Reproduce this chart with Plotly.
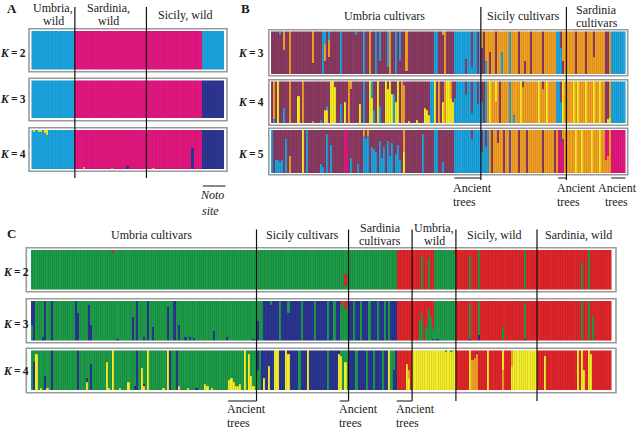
import plotly.graph_objects as go

W, H = 640, 429

# ---------------- data ----------------
A_GROUPS = ["Umbria,<br>wild", "Sardinia,<br>wild", "Sicily, wild"]
A_SIZES = [20, 33, 36]
B_GROUPS = ["Umbria cultivars", "Sicily cultivars", "Sardinia<br>cultivars"]
B_SIZES = [103, 42, 29]
C_GROUPS = ["Umbria cultivars", "Sicily cultivars", "Sardinia<br>cultivars",
            "Umbria,<br>wild", "Sicily, wild", "Sardinia, wild"]
C_SIZES = [103, 42, 29, 20, 37, 34]
ANCIENT = [(90, 103), (141, 145), (167, 174)]   # cultivar index ranges
NOTO = (79, 89)                                  # panel A index range
A_K = [2, 3, 4]
B_K = [3, 4, 5]
C_K = [2, 3, 4]

PAL_A = {'C': '#1ba3dd', 'P': '#e0177e', 'N': '#2e3590', 'Y': '#f1e526', 'O': '#f3a024'}
PAL_B = {'M': '#8c3b62', 'C': '#1da4de', 'O': '#f2a023', 'Y': '#f6ec1f', 'P': '#e2187f', 'V': '#6a49b5'}
PAL_C = {'G': '#1e9b48', 'N': '#2a3691', 'R': '#e1262b', 'Y': '#f2ec2b', 'O': '#f3a125'}

# ---- panel A ----
A_K2_RUNS = [(20, 'C'), (59, 'P'), (10, 'C')]
A_K2_MIX = {}
A_K3_RUNS = [(20, 'C'), (59, 'P'), (10, 'N')]
A_K3_MIX = {}
A_K4_RUNS = [(20, 'C'), (59, 'P'), (10, 'N')]
A_K4_MIX = {1: [('C', .95), ('Y', .05)], 3: [('C', .95), ('Y', .05)], 4: [('C', .96), ('Y', .04)],
            6: [('C', .93), ('Y', .07)], 7: [('C', .88), ('Y', .12)],
            24: [('O', .04), ('P', .96)], 37: [('O', .03), ('P', .97)], 44: [('N', .08), ('P', .92)],
            56: [('O', .02), ('P', .98)], 74: [('N', .55), ('P', .45)]}

# ---- panel B ----
B_K3_RUNS = [(90, 'M'), (13, 'C'), (64, 'O'), (7, 'C')]
B_K3_MIX = {4: [('M', .9), ('C', .1)], 6: [('M', .55), ('O', .45)], 9: 'O', 20: [('M', .25), ('O', .75)],
            25: 'C', 26: [('M', .3), ('O', .4), ('C', .3)], 28: [('M', .4), ('O', .4), ('C', .2)],
            34: 'C', 41: [('M', .9), ('C', .1)], 45: 'C', 48: 'O', 51: 'C', 53: [('M', .3), ('C', .7)],
            57: [('M', .15), ('C', .85)], 58: 'O', 61: 'C', 63: [('M', .3), ('C', .7)],
            66: [('M', .05), ('O', .95)], 80: 'C', 81: 'C', 84: [('M', .9), ('O', .1)], 85: 'O',
            95: [('M', .35), ('C', .65)], 98: [('C', .15), ('M', .85)], 101: 'M',
            103: [('M', .6), ('O', .4)], 104: 'M', 105: [('C', .3), ('O', .7)], 107: [('M', .5), ('O', .5)],
            110: 'M', 113: [('C', .5), ('O', .5)], 117: 'C', 121: 'M', 124: [('M', .3), ('O', .7)],
            127: 'M', 133: 'M', 140: 'C', 141: 'C', 142: [('C', .6), ('M', .4)], 143: [('M', .3), ('O', .7)],
            149: 'M', 154: 'M', 158: [('O', .4), ('M', .6)], 164: 'M', 165: 'M'}
B_K4_RUNS = [(90, 'M'), (13, 'C'), (64, 'O'), (7, 'C')]
B_K4_MIX = {1: [('C', .1), ('O', .9)], 3: 'Y', 6: [('C', .35), ('M', .65)], 9: 'O', 13: [('Y', .65), ('M', .35)],
            15: 'O', 20: [('O', .05), ('M', .95)], 24: [('C', .08), ('M', .92)], 26: [('Y', .3), ('M', .7)],
            27: [('Y', .3), ('C', .1), ('M', .6)], 29: 'Y', 30: 'Y', 31: [('Y', .85), ('M', .15)],
            34: [('C', .45), ('M', .55)], 36: [('Y', .5), ('M', .5)], 38: 'O', 39: [('M', .8), ('O', .2)],
            43: [('Y', .45), ('M', .55)], 45: 'C', 48: 'Y', 49: [('Y', .6), ('C', .4)], 50: [('C', .3), ('M', .7)],
            52: 'Y', 53: [('C', .4), ('M', .6)], 56: 'Y', 57: [('Y', .8), ('M', .2)], 58: 'Y',
            59: [('Y', .7), ('M', .3)], 60: [('C', .7), ('M', .3)], 61: [('Y', .5), ('M', .5)], 62: 'Y',
            64: 'O', 65: [('O', .9), ('M', .1)], 67: [('Y', .05), ('M', .95)], 71: [('Y', .06), ('M', .94)],
            75: [('Y', .35), ('M', .65)], 76: [('Y', .3), ('M', .7)], 77: [('Y', .2), ('M', .8)],
            78: 'C', 79: 'C', 80: 'Y', 82: 'O', 84: [('Y', .5), ('M', .5)], 85: 'O', 86: 'Y', 87: 'Y',
            88: [('Y', .6), ('O', .4)], 89: [('Y', .5), ('M', .5)],
            90: [('C', .6), ('M', .4)], 95: [('C', .7), ('M', .3)], 98: [('C', .25), ('M', .75)],
            101: [('C', .45), ('M', .55)],
            103: [('C', .5), ('M', .5)], 104: 'M', 105: 'C', 107: 'Y', 110: [('O', .5), ('Y', .5)], 112: 'M',
            117: 'C', 119: [('C', .2), ('O', .8)], 122: 'Y', 123: [('O', .85), ('M', .15)], 131: 'Y',
            133: [('O', .8), ('M', .2)], 135: 'Y', 140: 'C', 141: 'C', 142: [('C', .5), ('M', .5)], 143: 'Y',
            148: 'Y', 150: 'Y', 154: 'Y', 158: 'Y', 161: 'Y', 164: 'M', 165: [('Y', .1), ('M', .9)],
            166: [('Y', .15), ('O', .85)]}
B_K5_RUNS = [(90, 'M'), (13, 'C'), (64, 'O'), (7, 'P')]
B_K5_MIX = {0: 'C', 2: [('C', .3), ('M', .7)], 3: [('C', .3), ('M', .7)], 4: [('C', .25), ('M', .75)],
            5: [('C', .3), ('M', .7)], 7: [('C', .8), ('M', .2)], 9: [('O', .4), ('M', .6)], 15: 'Y', 17: 'C',
            24: [('C', .2), ('M', .8)], 25: [('C', .15), ('M', .85)], 27: [('C', .9), ('M', .1)],
            29: [('C', .65), ('M', .35)], 36: 'P', 37: 'P', 39: [('C', .35), ('M', .65)], 42: [('C', .2), ('M', .8)],
            45: [('C', .85), ('O', .15)], 46: [('C', .8), ('M', .2)], 47: [('C', .85), ('O', .15)],
            49: [('C', .6), ('M', .4)], 50: [('C', .55), ('M', .45)], 51: [('C', .5), ('M', .5)],
            53: [('C', .75), ('M', .25)], 54: [('C', .35), ('M', .65)], 55: [('C', .6), ('M', .4)],
            57: [('C', .75), ('M', .25)], 58: [('C', .4), ('M', .6)], 59: [('C', .7), ('M', .3)],
            61: [('C', .45), ('M', .55)], 62: [('C', .65), ('M', .35)], 63: [('C', .3), ('M', .7)],
            65: [('Y', .5), ('O', .5)], 74: [('C', .9), ('M', .1)], 80: 'C', 81: 'C', 84: [('C', .25), ('M', .75)],
            98: [('C', .8), ('M', .2)],
            103: [('C', .5), ('M', .5)], 104: 'C', 105: [('C', .6), ('M', .4)], 106: 'C', 108: 'M',
            111: [('O', .7), ('M', .3)], 114: 'M', 117: 'V', 121: 'M', 125: 'M', 133: 'M', 139: 'M', 141: 'P',
            142: [('P', .7), ('M', .3)], 143: [('P', .8), ('O', .2)],
            149: 'Y', 152: 'Y', 157: 'Y', 161: 'Y', 164: [('O', .3), ('P', .7)], 165: [('O', .4), ('P', .6)]}

# ---- panel C ----
C_K2_RUNS = [(167, 'G'), (17, 'R'), (10, 'G'), (71, 'R')]
C_K2_MIX = {37: [('G', .92), ('R', .08)], 143: [('G', .1), ('R', .3), ('G', .6)],
            178: [('G', .85), ('R', .15)], 181: [('G', .8), ('R', .2)], 193: [('G', .9), ('R', .1)],
            200: [('G', .85), ('R', .15)], 204: 'G', 225: 'G', 251: [('G', .7), ('R', .3)], 254: 'G'}
C_K3_RUNS = [(103, 'G'), (64, 'N'), (17, 'R'), (10, 'G'), (71, 'R')]
C_K3_MIX = {0: [('G', .4), ('N', .6)], 1: 'N', 5: [('N', .1), ('G', .9)], 6: 'N', 9: 'N', 20: 'N',
            21: [('N', .7), ('G', .3)], 26: [('N', .9), ('G', .1)], 27: [('N', .4), ('G', .6)],
            39: [('N', .05), ('G', .95)], 46: [('N', .6), ('G', .4)], 48: 'N', 51: [('N', .08), ('G', .92)],
            53: 'N', 55: [('N', .35), ('G', .65)], 62: [('N', .85), ('G', .15)], 65: 'N',
            67: [('N', .4), ('G', .6)], 70: [('N', .1), ('G', .9)], 72: [('N', .08), ('G', .92)],
            74: [('N', .06), ('G', .94)], 83: [('N', .25), ('G', .75)], 89: [('N', .08), ('G', .92)],
            101: [('N', .05), ('G', .95)],
            103: [('N', .5), ('G', .5)], 104: 'G', 105: 'G', 109: [('N', .9), ('G', .1)], 113: 'G',
            117: [('N', .7), ('G', .3)], 123: 'G', 129: 'G', 135: 'G', 138: 'G', 141: [('G', .9), ('R', .1)],
            142: 'G', 143: [('G', .8), ('R', .2)], 144: [('G', .9), ('R', .1)],
            147: 'G', 150: 'G', 154: 'G', 158: 'G', 161: 'G', 163: 'G',
            177: [('G', .5), ('R', .5)], 178: [('G', .7), ('R', .3)], 180: [('G', .35), ('R', .65)],
            181: [('G', .8), ('R', .2)], 182: [('G', .6), ('R', .4)], 183: [('N', .05), ('G', .25), ('R', .7)],
            185: [('N', .05), ('G', .95)],
            200: [('N', .05), ('G', .9), ('R', .05)], 204: [('N', .15), ('G', .85)], 215: [('G', .35), ('R', .65)],
            225: [('N', .05), ('G', .9), ('R', .05)], 251: 'G', 254: 'G', 256: [('G', .6), ('R', .4)]}
C_K4_RUNS = [(103, 'G'), (64, 'N'), (7, 'R'), (20, 'Y'), (26, 'R'), (11, 'Y'), (34, 'R')]
C_K4_MIX = {1: [('N', .7), ('G', .3)], 2: [('Y', .9), ('G', .1)], 4: [('Y', .05), ('G', .95)],
            6: [('N', .35), ('G', .65)], 7: [('Y', .05), ('G', .95)], 9: 'N', 21: 'N',
            25: [('Y', .2), ('N', .1), ('G', .7)], 27: [('N', .65), ('G', .35)], 34: [('Y', .7), ('G', .3)],
            35: [('Y', .05), ('G', .95)], 37: 'Y', 40: [('Y', .04), ('G', .96)], 44: [('Y', .2), ('G', .8)],
            47: [('N', .1), ('G', .9)], 48: 'N', 50: [('Y', .55), ('G', .45)],
            51: [('Y', .1), ('N', .05), ('G', .85)], 53: 'Y', 60: [('Y', .05), ('G', .95)], 62: 'Y', 63: 'N',
            66: 'N', 67: [('Y', .1), ('G', .9)], 71: [('Y', .05), ('G', .95)], 75: [('N', .05), ('G', .95)],
            79: [('Y', .15), ('G', .85)], 80: [('Y', .1), ('G', .9)], 82: [('Y', .05), ('G', .95)],
            90: [('Y', .25), ('G', .75)], 91: [('Y', .3), ('G', .7)], 92: [('Y', .2), ('G', .8)],
            93: [('Y', .1), ('G', .9)], 94: [('Y', .1), ('G', .9)], 95: [('Y', .15), ('G', .85)], 97: 'Y',
            99: [('Y', .9), ('G', .1)], 100: [('Y', .35), ('G', .65)], 101: [('Y', .1), ('G', .9)],
            103: [('G', .5), ('N', .5)], 104: 'G', 106: [('Y', .3), ('N', .7)], 108: [('Y', .6), ('N', .4)],
            111: 'Y', 112: 'Y', 116: 'Y', 117: [('Y', .9), ('N', .1)], 122: 'G', 126: 'Y', 135: 'G',
            140: [('Y', .9), ('N', .1)], 141: [('Y', .85), ('G', .15)], 142: 'G', 143: [('Y', .7), ('G', .3)],
            144: 'G', 148: 'G', 153: 'G', 156: 'G', 160: 'G', 163: 'Y', 164: 'G', 165: [('N', .5), ('G', .5)],
            171: [('Y', .65), ('R', .35)], 172: [('Y', .3), ('O', .2), ('R', .5)],
            189: [('Y', .95), ('G', .05)], 191: [('Y', .95), ('G', .05)], 192: [('Y', .97), ('G', .03)],
            200: 'Y', 201: [('O', .75), ('R', .25)], 202: [('O', .8), ('R', .2)],
            203: [('O', .9), ('N', .03), ('R', .07)], 208: 'Y', 215: [('O', .5), ('Y', .5)],
            219: [('Y', .6), ('O', .4)],
            234: [('Y', .85), ('R', .15)], 249: 'Y', 251: 'Y', 252: [('Y', .5), ('R', .5)], 254: 'Y',
            255: [('Y', .9), ('R', .1)]}

# ---------------- layout (pixel geometry) ----------------
FONT = "Liberation Serif, Times New Roman, serif"
PANELS = {
    'A': dict(x=(31.5, 224.5), rows=[(31, 69.5), (80.5, 118.5), (130, 169)], pad=(2.5, 2.2),
              vline=(7, 178), label_y=14.5, klab=(27.5, 'right'), kdy=[3, 0, 4]),
    'B': dict(x=(271, 625.5), rows=[(31.5, 74), (81.5, 123.5), (130, 173)], pad=(2.2, 1.8),
              vline=(7, 180), label_y=16.5, klab=(265.5, 'right'), kdy=[0, 0, 2]),
    'C': dict(x=(30.8, 611.5), rows=[(250, 289.5), (301, 340.5), (350.5, 390.5)], pad=(4.5, 2.2),
              vline=(229.5, 401), label_y=234.5, klab=(0.5, 'left'), kdy=[2, 3, 0]),
}

fig = go.Figure()
layout = dict(width=W, height=H, margin=dict(l=0, r=0, t=0, b=0), paper_bgcolor='white',
              plot_bgcolor='white', barmode='stack', bargap=0, showlegend=False)
shapes, annotations = [], []


def px(x):
    return x / W


def py(y):
    return 1 - y / H


def expand(runs, mix):
    bars = []
    for n, code in runs:
        bars += [[(code, 1.0)] for _ in range(n)]
    for i, v in mix.items():
        segs = [(v, 1.0)] if isinstance(v, str) else list(v)
        tot = sum(f for _, f in segs)
        bars[i] = [(c, f / tot) for c, f in segs]
    return bars


ax_counter = [0]


def add_row(bars, pal, x0, x1, y0, y1):
    ax_counter[0] += 1
    k = ax_counter[0]
    sfx = '' if k == 1 else str(k)
    n = len(bars)
    L = max(len(b) for b in bars)
    for l in range(L):
        ys, cs, lc = [], [], []
        for b in bars:
            if l < len(b):
                ys.append(b[l][1]); cs.append(pal[b[l][0]]); lc.append('rgba(0,0,0,0.12)')
            else:
                ys.append(0); cs.append('rgba(0,0,0,0)'); lc.append('rgba(0,0,0,0)')
        fig.add_trace(go.Bar(x=list(range(n)), y=ys, marker=dict(color=cs, line=dict(color=lc, width=0.4)),
                             xaxis='x' + sfx, yaxis='y' + sfx, hoverinfo='skip', showlegend=False))
    layout['xaxis' + sfx] = dict(domain=[px(x0), px(x1)], range=[-0.5, n - 0.5], visible=False,
                                 anchor='y' + sfx, fixedrange=True)
    layout['yaxis' + sfx] = dict(domain=[py(y1), py(y0)], range=[0, 1], visible=False,
                                 anchor='x' + sfx, fixedrange=True)


def text(x, y, s, size=12, xa='center', ya='middle', italic=False, bold=False):
    if italic:
        s = '<i>' + s + '</i>'
    if bold:
        s = '<b>' + s + '</b>'
    annotations.append(dict(x=px(x), y=py(y), xref='paper', yref='paper', text=s, showarrow=False,
                            xanchor=xa, yanchor=ya, font=dict(family=FONT, size=size, color='#1a1a1a')))


def multiline(x, y, s, gap=13, xa='center'):
    lines = s.split('<br>')
    top = y - gap * (len(lines) - 1) / 2
    for j, ln in enumerate(lines):
        text(x, top + j * gap, ln, xa=xa)


panel_data = {
    'A': (PAL_A, A_K, [(A_K2_RUNS, A_K2_MIX), (A_K3_RUNS, A_K3_MIX), (A_K4_RUNS, A_K4_MIX)], A_GROUPS, A_SIZES),
    'B': (PAL_B, B_K, [(B_K3_RUNS, B_K3_MIX), (B_K4_RUNS, B_K4_MIX), (B_K5_RUNS, B_K5_MIX)], B_GROUPS, B_SIZES),
    'C': (PAL_C, C_K, [(C_K2_RUNS, C_K2_MIX), (C_K3_RUNS, C_K3_MIX), (C_K4_RUNS, C_K4_MIX)], C_GROUPS, C_SIZES),
}
label_shift = {'A': [0, -2, 0], 'B': [9, 0, 1], 'C': [8, 0, 0, 0, -2, 4]}

for name, (pal, ks, rows, groups, sizes) in panel_data.items():
    g = PANELS[name]
    x0, x1 = g['x']
    N = sum(sizes)

    def ix(i):
        return x0 + i / N * (x1 - x0)

    for (runs, mix), (y0, y1), kk, dy in zip(rows, g['rows'], ks, g['kdy']):
        add_row(expand(runs, mix), pal, x0, x1, y0, y1)
        padx, pady = g['pad']
        shapes.append(dict(type='rect', xref='paper', yref='paper', x0=px(x0 - padx), x1=px(x1 + padx),
                           y0=py(y1 + pady), y1=py(y0 - pady), line=dict(color='#9a9a9a', width=1.6),
                           fillcolor='rgba(0,0,0,0)', layer='above'))
        text(g['klab'][0], (y0 + y1) / 2 + dy, '<i>K</i>\u2009=\u2009%d' % kk, size=11.5,
             xa=g['klab'][1], bold=True)
    cum = 0
    for j, (lab, s) in enumerate(zip(groups, sizes)):
        multiline(ix(cum + s / 2) + label_shift[name][j], g['label_y'], lab)
        cum += s
        if j < len(sizes) - 1:
            shapes.append(dict(type='line', xref='paper', yref='paper', x0=px(ix(cum)), x1=px(ix(cum)),
                               y0=py(g['vline'][0]), y1=py(g['vline'][1]),
                               line=dict(color='#111111', width=1.2), layer='above'))

# panel letters
text(5, 9, 'A', size=13, xa='left', bold=True)
text(239, 9, 'B', size=13, xa='left', bold=True)
text(5, 234, 'C', size=13, xa='left', bold=True)

# Noto site (panel A)
gA = PANELS['A']
NA = sum(A_SIZES)
nx0 = gA['x'][0] + NOTO[0] / NA * (gA['x'][1] - gA['x'][0])
nx1 = gA['x'][0] + NOTO[1] / NA * (gA['x'][1] - gA['x'][0]) + 1
shapes.append(dict(type='line', xref='paper', yref='paper', x0=px(nx0), x1=px(nx1), y0=py(186), y1=py(186),
                   line=dict(color='#111111', width=1)))
text(nx1, 195, 'Noto', xa='right', italic=True)
text(nx0 - 3, 211, 'site', xa='left', italic=True)

# Ancient trees (panels B and C)
for name, yl, yt in [('B', 178, 187.5), ('C', 401, 409)]:
    g = PANELS[name]
    N = sum(B_SIZES) if name == 'B' else sum(C_SIZES)
    for a, b in ANCIENT:
        ax0 = g['x'][0] + a / N * (g['x'][1] - g['x'][0])
        ax1 = g['x'][0] + b / N * (g['x'][1] - g['x'][0])
        shapes.append(dict(type='line', xref='paper', yref='paper', x0=px(ax0), x1=px(ax1), y0=py(yl), y1=py(yl),
                           line=dict(color='#111111', width=1)))
        if ax0 - 3 + 38 > W:
            text(W - 1, yt, 'Ancient', xa='right')
            text(W - 1 - 37 + 0.5, yt + 14, 'trees', xa='left')
        else:
            text(ax0 - 3, yt, 'Ancient', xa='left')
            text(ax0 - 3, yt + 14, 'trees', xa='left')

layout['shapes'] = shapes
layout['annotations'] = annotations
fig.update_layout(**layout)
fig.write_html("out.html", config={'displayModeBar': False},
               post_script="document.body.style.margin='0';document.body.style.overflow='hidden';")
